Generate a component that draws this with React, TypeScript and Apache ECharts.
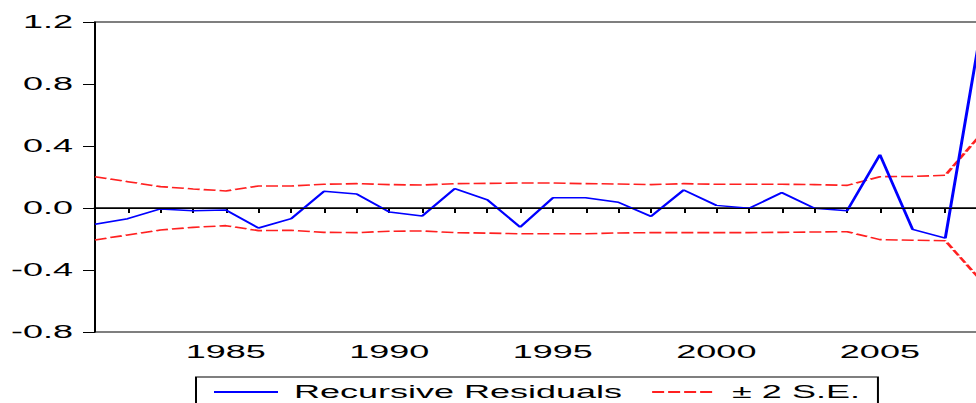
import React, { useEffect, useRef } from 'react';
import * as echarts from 'echarts';

const years = [
  '1981', '1982', '1983', '1984', '1985', '1986', '1987', '1988', '1989', '1990',
  '1991', '1992', '1993', '1994', '1995', '1996', '1997', '1998', '1999', '2000',
  '2001', '2002', '2003', '2004', '2005', '2006', '2007', '2008',
];

const recursiveResiduals = [
  -0.105, -0.069, -0.006, -0.017, -0.013, -0.129, -0.069, 0.108, 0.090, -0.026,
  -0.052, 0.125, 0.052, -0.123, 0.066, 0.066, 0.037, -0.054, 0.116, 0.017,
  -0.002, 0.099, -0.002, -0.017, 0.344, -0.138, -0.194, 1.04,
];

const upperBand = [
  0.202, 0.170, 0.138, 0.123, 0.110, 0.142, 0.142, 0.153, 0.157, 0.151,
  0.148, 0.157, 0.159, 0.161, 0.161, 0.157, 0.155, 0.151, 0.157, 0.153,
  0.153, 0.153, 0.151, 0.146, 0.202, 0.204, 0.211, 0.454,
];

const lowerBand = [
  -0.206, -0.174, -0.142, -0.125, -0.114, -0.146, -0.144, -0.157, -0.159, -0.150,
  -0.148, -0.159, -0.162, -0.166, -0.166, -0.166, -0.161, -0.159, -0.159, -0.159,
  -0.159, -0.157, -0.155, -0.153, -0.204, -0.208, -0.211, -0.446,
];

const residName = 'Recursive Residuals';
const bandName = '± 2 S.E.';

const FONT = "'Liberation Sans', Arial, sans-serif";

export default function App() {
  const ref = useRef<HTMLDivElement>(null);

  useEffect(() => {
    const chart = echarts.init(ref.current as HTMLDivElement, null, { renderer: 'svg' });
    chart.setOption({
      animation: false,
      backgroundColor: '#ffffff',
      grid: {
        left: 47.5,
        right: 11,
        top: 22,
        bottom: 71,
        show: true,
        borderColor: '#000000',
        borderWidth: 1,
        backgroundColor: 'transparent',
      },
      legend: {
        data: [residName, bandName],
        left: 98,
        top: 377,
        orient: 'horizontal',
        padding: [6, 9, 8, 8],
        itemWidth: 32,
        itemHeight: 14,
        itemGap: 14,
        borderColor: '#000000',
        borderWidth: 1,
        itemStyle: { opacity: 0, borderWidth: 0 },
        textStyle: {
          fontFamily: FONT,
          fontSize: 18,
          color: '#000000',
          padding: [0, 0, 0, 3],
        },
      },
      xAxis: {
        type: 'category',
        data: years,
        boundaryGap: false,
        axisLine: { show: true, lineStyle: { color: '#000000', width: 1.5 } },
        axisTick: { show: true, interval: 0, length: 5, lineStyle: { color: '#000000', width: 1 } },
        axisLabel: {
          interval: (_i: number, v: string) => Number(v) % 5 === 0,
          margin: 11,
          fontFamily: FONT,
          fontSize: 18,
          color: '#000000',
        },
        splitLine: { show: false },
      },
      yAxis: {
        type: 'value',
        min: -0.8,
        max: 1.2,
        interval: 0.4,
        axisLine: { show: true, lineStyle: { color: '#000000', width: 1 } },
        axisTick: { show: true, length: 6, lineStyle: { color: '#000000', width: 1 } },
        axisLabel: {
          margin: 11,
          fontFamily: FONT,
          fontSize: 18,
          color: '#000000',
          formatter: (v: number) => v.toFixed(1),
        },
        splitLine: { show: false },
      },
      series: [
        {
          name: residName,
          type: 'line',
          data: recursiveResiduals,
          symbol: 'none',
          z: 4,
          lineStyle: { color: '#0000ff', width: 1.5 },
          itemStyle: { color: '#0000ff' },
          markLine: {
            silent: true,
            symbol: ['none', 'none'],
            label: { show: false },
            lineStyle: { color: '#000000', type: 'solid', width: 1 },
            data: [{ yAxis: 0 }],
          },
        },
        {
          name: bandName,
          type: 'line',
          data: upperBand,
          symbol: 'none',
          z: 3,
          lineStyle: { color: '#ff2020', width: 1.6, type: [6, 2] },
          itemStyle: { color: '#ff2020' },
        },
        {
          name: bandName,
          type: 'line',
          data: lowerBand,
          symbol: 'none',
          z: 3,
          lineStyle: { color: '#ff2020', width: 1.6, type: [6, 2] },
          itemStyle: { color: '#ff2020' },
        },
      ],
    });
    return () => chart.dispose();
  }, []);

  return (
    <div
      style={{
        position: 'absolute',
        left: 0,
        top: 0,
        width: 976,
        height: 403,
        overflow: 'hidden',
        background: '#ffffff',
      }}
    >
      <div
        ref={ref}
        style={{ width: 500, height: 403, transform: 'scaleX(2)', transformOrigin: '0 0' }}
      />
    </div>
  );
}
